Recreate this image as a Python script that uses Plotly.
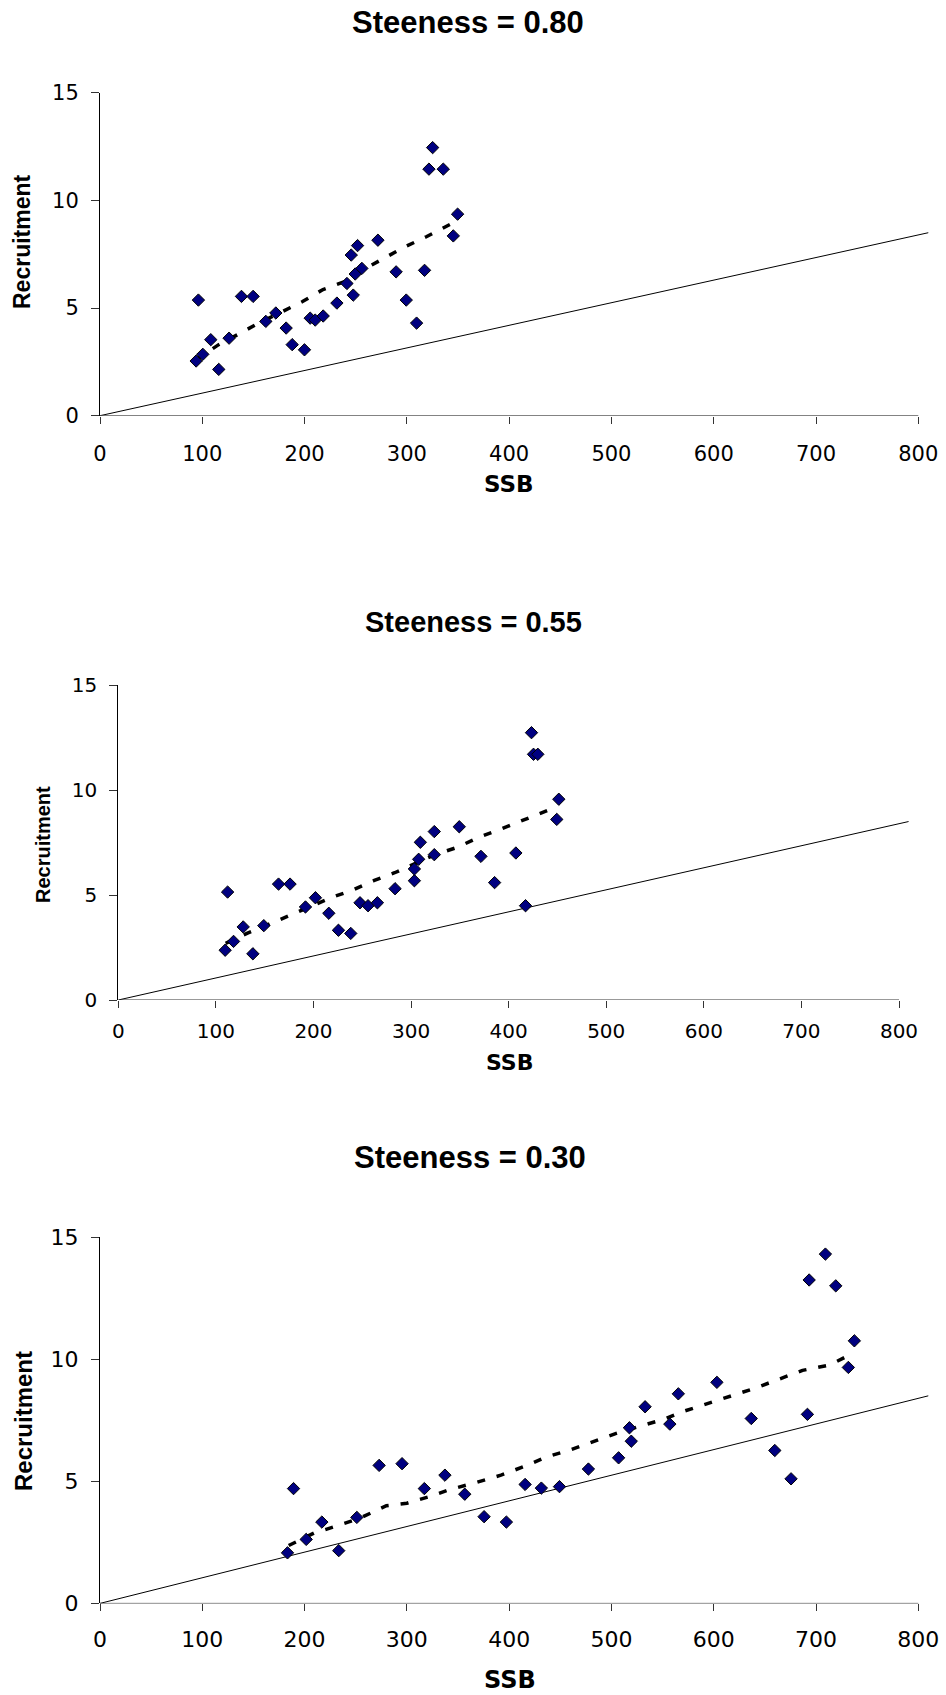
import plotly.graph_objects as go

W, H = 946, 1695

# ---- Steepness 0.80 ----
ssb_080 = [94, 96.2, 100.5, 108.3, 116.1, 126.2, 138.3, 149.7, 162.1, 171.9, 182, 187.9, 199.9,
           205.5, 210.4, 218.2, 231.6, 241.4, 245.6, 247.6, 249.5, 251.8, 256, 271.7, 289.5,
           299.4, 309.5, 317.3, 321.6, 325.2, 335.6, 345.4, 349.6]
rec_080 = [2.54, 5.37, 2.85, 3.53, 2.15, 3.6, 5.54, 5.54, 4.38, 4.77, 4.07, 3.3, 3.06,
           4.53, 4.44, 4.63, 5.23, 6.14, 7.46, 5.6, 6.58, 7.9, 6.84, 8.15, 6.68,
           5.37, 4.30, 6.75, 11.45, 12.45, 11.45, 8.35, 9.36]
fit_ssb_080 = [94, 116, 136, 157, 176, 198, 218, 239, 258, 277, 298, 319, 339, 349]
fit_rec_080 = [2.6, 3.3, 3.8, 4.35, 4.78, 5.3, 5.86, 6.22, 6.8, 7.3, 7.84, 8.31, 8.83, 9.05]

# ---- Steepness 0.55 ----
ssb_055 = [109.5, 112, 118.1, 128, 137.9, 149.1, 164.2, 176, 191.8, 202, 215.7, 225.6, 238.2,
           247.7, 255.9, 265.5, 283.6, 303.4, 303.4, 307.8, 309.5, 323.8, 323.8, 349.4, 371.6,
           385.6, 407.4, 417.3, 423.4, 425.5, 429.9, 449.3, 451.4]
rec_055 = [2.37, 5.14, 2.79, 3.48, 2.2, 3.54, 5.52, 5.52, 4.43, 4.87, 4.13, 3.32, 3.17,
           4.63, 4.49, 4.63, 5.30, 5.68, 6.24, 6.70, 7.51, 6.92, 8.02, 8.25, 6.84,
           5.59, 7.0, 4.49, 12.73, 11.7, 11.7, 8.6, 9.56]
fit_ssb_055 = [110, 133, 153.5, 176.5, 197, 219, 240.5, 261.7, 283.2, 303.7, 323.4, 347.4,
               368.5, 390, 411.9, 432.6, 449]
fit_rec_055 = [2.7, 3.2, 3.59, 4.05, 4.44, 4.89, 5.24, 5.68, 6.06, 6.51, 6.9, 7.27,
               7.73, 8.1, 8.52, 8.92, 9.2]

# ---- Steepness 0.30 ----
ssb_030 = [183.3, 189.2, 201.6, 216.9, 233.4, 251.1, 272.9, 295.3, 317.1, 337.2, 356.6, 375.5,
           397.3, 415.6, 431.5, 449.2, 477.5, 507, 517.6, 519.4, 532.9, 557.1, 565.4, 603.1,
           636.7, 659.7, 675.6, 691.6, 693.3, 709.2, 719.3, 731.6, 737.5]
rec_030 = [2.07, 4.70, 2.62, 3.33, 2.16, 3.52, 5.65, 5.72, 4.70, 5.25, 4.47, 3.55,
           3.33, 4.87, 4.72, 4.78, 5.50, 5.96, 7.19, 6.64, 8.05, 7.34, 8.58, 9.05,
           7.57, 6.26, 5.10, 7.74, 13.24, 14.30, 13.0, 9.66, 10.75]
fit_ssb_030 = [184.5, 209.3, 230, 253.5, 280, 300, 321.3, 341.9, 368.5, 392, 415.6, 436.3,
               459.9, 483.4, 504, 527.6, 551.2, 568.9, 595.4, 619, 639.6, 663.2, 686.8,
               713.3, 731]
fit_rec_030 = [2.37, 2.88, 3.15, 3.48, 4.0, 4.1, 4.36, 4.66, 4.96, 5.25, 5.62, 5.99,
               6.29, 6.66, 6.95, 7.25, 7.54, 7.84, 8.21, 8.51, 8.80, 9.17, 9.54,
               9.76, 10.13]

# replacement line (R = SSB / SPR0)
repl_ssb = [0, 810]
repl_rec = [0, 8.5]

titles = ["Steeness = 0.80", "Steeness = 0.55", "Steeness = 0.30"]
x_ticks = [0, 100, 200, 300, 400, 500, 600, 700, 800]
y_ticks = [0, 5, 10, 15]

panels = [
    dict(ssb=ssb_080, rec=rec_080, fs=fit_ssb_080, fr=fit_rec_080,
         x0=100, x800=918.3, y0=415.7, y15=92.7, tick=21, xpad=12, title_xy=(468, 22), tsize=31,
         xt_xy=(509, 484), xsize=23, yt_xy=(22, 242), ysize=23),
    dict(ssb=ssb_055, rec=rec_055, fs=fit_ssb_055, fr=fit_rec_055,
         x0=118.3, x800=899, y0=1000, y15=685, tick=20, xpad=6, title_xy=(473, 622), tsize=29,
         xt_xy=(509, 1062), xsize=22, yt_xy=(43, 845), ysize=20),
    dict(ssb=ssb_030, rec=rec_030, fs=fit_ssb_030, fr=fit_rec_030,
         x0=100, x800=918.3, y0=1603.4, y15=1237, tick=22, xpad=9, title_xy=(470, 1157), tsize=31,
         xt_xy=(510, 1680), xsize=24, yt_xy=(23, 1421), ysize=24),
]

XMAX = 810
TICK_FONT = "DejaVu Sans, sans-serif"
BOLD_FONT = "Liberation Sans, Arial, sans-serif"
SSB_FONT = "DejaVu Sans, sans-serif"

fig = go.Figure()
layout = dict(width=W, height=H, margin=dict(l=0, r=0, t=0, b=0, autoexpand=False),
              paper_bgcolor="white", plot_bgcolor="white", showlegend=False,
              annotations=[], shapes=[])

for i, p in enumerate(panels):
    n = "" if i == 0 else str(i + 1)
    xa, ya = "x" + n, "y" + n
    ppu = (p["x800"] - p["x0"]) / 800.0
    xr = p["x0"] + XMAX * ppu
    layout["xaxis" + n] = dict(
        domain=[p["x0"] / W, xr / W], range=[0, XMAX], anchor=ya,
        tickvals=x_ticks, ticks="outside", ticklen=7, tickcolor="#333",
        showline=False, showgrid=False, zeroline=False, automargin=False,
        tickfont=dict(family=TICK_FONT, size=p["tick"], color="black"),
        ticklabelstandoff=p["xpad"],
    )
    layout["yaxis" + n] = dict(
        domain=[1 - p["y0"] / H, 1 - p["y15"] / H], range=[0, 15], anchor=xa,
        tickvals=y_ticks, ticks="outside", ticklen=8, tickcolor="#333",
        showline=True, linecolor="black", linewidth=1,
        showgrid=False, zeroline=False, automargin=False,
        tickfont=dict(family=TICK_FONT, size=p["tick"], color="black"),
        ticklabelstandoff=8,
    )
    # x axis line spans 0..800 only
    layout["shapes"].append(dict(type="line", xref=xa, yref=ya, x0=0, x1=800, y0=0, y1=0,
                                 line=dict(color="#333", width=1)))

    fig.add_trace(go.Scatter(x=repl_ssb, y=repl_rec, mode="lines", xaxis=xa, yaxis=ya,
                             line=dict(color="black", width=1)))
    fig.add_trace(go.Scatter(x=p["fs"], y=p["fr"], mode="lines", xaxis=xa, yaxis=ya,
                             line=dict(color="black", width=3.5, dash="8px,12px")))
    fig.add_trace(go.Scatter(x=p["ssb"], y=p["rec"], mode="markers", xaxis=xa, yaxis=ya,
                             marker=dict(symbol="diamond", size=9.5, color="#000080",
                                         line=dict(color="black", width=1)),
                             cliponaxis=False))

    tx, ty = p["title_xy"]
    layout["annotations"].append(dict(
        text="<b>%s</b>" % titles[i], xref="paper", yref="paper",
        x=tx / W, y=1 - ty / H, xanchor="center", yanchor="middle", showarrow=False,
        font=dict(family=BOLD_FONT, size=p["tsize"], color="black")))
    sx, sy = p["xt_xy"]
    layout["annotations"].append(dict(
        text="<b>SSB</b>", xref="paper", yref="paper",
        x=sx / W, y=1 - sy / H, xanchor="center", yanchor="middle", showarrow=False,
        font=dict(family=SSB_FONT, size=p["xsize"], color="black")))
    rx, ry = p["yt_xy"]
    layout["annotations"].append(dict(
        text="<b>Recruitment</b>", xref="paper", yref="paper", textangle=-90,
        x=rx / W, y=1 - ry / H, xanchor="center", yanchor="middle", showarrow=False,
        font=dict(family=BOLD_FONT, size=p["ysize"], color="black")))

fig.update_layout(**layout)
fig.write_html("out.html", post_script="document.body.style.margin='0';")
